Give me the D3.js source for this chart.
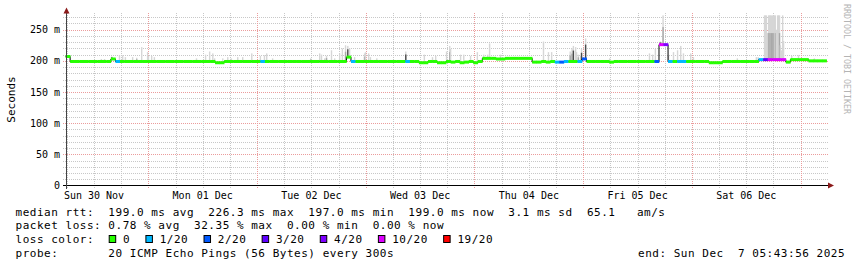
<!DOCTYPE html>
<html><head><meta charset="utf-8">
<script src="https://cdn.jsdelivr.net/npm/d3@7/dist/d3.min.js"></script>
<style>
body{margin:0;background:#fff}
svg{display:block}
text{font-family:"DejaVu Sans Mono",monospace;fill:#000}
</style>
</head><body>
<svg id="c" width="857" height="267"></svg>
<script>
// ---------------- data ----------------
const endTime = "2025-12-07T05:43:56Z";
const spanHours = 168;

// hourly median rtt (ms), hour 0 = end - 168h
const medianMs = [
207,
199,199,199,199,199,199,199,199,199,
203,199,
199,199,199,199,199,199,199,199,199,199,199,199,199,199,199,199,199,199,199,199,199,
197,197,
199,199,199,199,199,199,199,199,199,199,199,199,199,199,199,199,199,199,199,199,199,199,199,199,199,199,199,
206,
199,199,199,199,199,199,199,199,199,199,199,199,199,199,199,
197,197,199,199,197,197,
199,198,199,197,198,199,197,
199,
204,204,204,203,203,204,204,204,204,204,204,
198,198,199,198,199,
198,198,199,199,199,
199,203,199,
199,199,199,199,198,199,199,199,199,199,199,199,199,199,
199,226,226,
199,199,199,199,199,199,199,199,199,
197,197,197,
199,199,199,199,199,199,199,199,
202,202,202,202,202,202,
198,
202,202,202,202,
200,200,200,200
];

// packets lost out of 20, per hour (0 unless listed)
const lossCount = [
0,0,0,0,0,0,0,0,0,0, 0,1,0,0,0,0,0,0,0,0,
0,0,0,0,0,0,0,0,0,0, 0,0,0,0,0,0,0,0,0,0,
0,0,0,1,0,0,0,0,0,0, 0,0,0,0,0,0,0,0,0,0,
0,0,0,1,0,0,0,0,0,0, 0,0,0,0,0,1,0,0,0,0,
0,0,0,0,0,0,0,0,0,0, 0,0,0,0,0,0,0,0,0,0,
0,0,0,0,0,0,0,0,1,2, 1,0,0,1,2,0,0,0,0,0,
0,0,0,0,0,0,0,0,0,0, 2,10,4,1,0,1,1,0,0,0,
0,0,0,0,0,0,0,0,0,0, 0,0,0,1,3,10,10,10,10,0,
0,0,0,0,0,0,0,0
];

// smoke (ping spread) spikes: hour offset, top of spread (ms), shade 0 light / 1 mid / 2 dark
const smokeHour = [7.9,8.6,10.2,11.9,12.6,13.2,14.8,15.7,16.8,18.1,18.3,19.0,19.6,
28.9,30.9,31.8,32.5,32.9,34.7,35.8,36.6,38.0,39.1,41.1,43.0,43.9,44.4,45.7,
54.1,56.1,56.5,57.2,57.6,58.7,59.4,60.5,61.1,61.8,62.3,62.7,63.8,66.0,66.2,66.9,67.3,68.7,
75.1,79.2,81.0,81.7,84.1,84.8,85.0,87.2,87.9,89.4,90.9,92.3,93.2,93.6,96.0,
105.5,106.6,107.3,111.4,111.8,112.1,112.6,112.8,113.2,113.7,113.9,114.8,120.1,
128.9,129.6,130.2,131.3,131.9,132.6,133.1,134.2,135.1,135.8,136.4,138.0,138.6,
148.3,152.5,152.9,
154.3,154.5,154.7,155.0,155.2,155.4,155.6,155.8,156.1,156.3,156.5,156.7,156.9,157.2,157.4,157.6,157.8,158.0,158.3,158.5,
160.3,161.8,165.3];
const smokeTopMs = [203,203,207,209,209,206,206,205,222,214,208,208,206,
204,210,215,212,204,204,206,204,206,206,212,208,209,212,204,
204,212,210,204,208,217,204,212,220,225,224,220,206,212,214,212,206,204,
215,210,206,208,215,224,219,210,210,208,214,210,210,228,210,
231,214,214,215,220,224,222,214,210,208,219,236,204,
212,210,219,231,273,228,208,214,217,224,212,212,206,
204,206,206,
273,273,273,245,273,273,273,273,273,273,273,273,250,273,273,273,225,217,273,232,
208,209,204];
const smokeShade = [0,0,2,0,0,0,0,1,0,0,0,0,0,
0,0,0,0,0,0,0,0,0,0,0,0,0,0,0,
1,0,0,0,1,0,0,0,0,1,2,0,0,1,0,0,0,0,
2,0,0,0,0,1,0,0,0,0,0,0,0,0,0,
0,0,0,1,1,2,0,0,1,0,2,2,0,
0,0,0,2,1,1,0,0,0,0,0,0,0,
0,0,0,
0,0,0,0,1,1,1,1,1,1,0,1,0,0,0,1,0,0,0,0,
0,0,0];

const yTickValues = [0,50,100,150,200,250];
const yTickLabels = ["0","50 m","100 m","150 m","200 m","250 m"];
const dayLabels = ["Sun 30 Nov","Mon 01 Dec","Tue 02 Dec","Wed 03 Dec","Thu 04 Dec","Fri 05 Dec","Sat 06 Dec"];
const firstDayNoon = "2025-11-30T12:00:00Z";

const lossThresholds = [0,1,2,3,4,10,19];
const lossLabels = ["0","1/20","2/20","3/20","4/20","10/20","19/20"];
const lossColors = ["#26ff00","#00b8ff","#0059ff","#5e00ff","#7e00ff","#dd00ff","#ff0000"];

const statLine1 = "median rtt:  199.0 ms avg  226.3 ms max  197.0 ms min  199.0 ms now  3.1 ms sd  65.1   am/s";
const statLine2 = "packet loss: 0.78 % avg  32.35 % max  0.00 % min  0.00 % now";
const legendTitle = "loss color:";
const probeLine = "probe:       20 ICMP Echo Pings (56 Bytes) every 300s";
const endLine = "end: Sun Dec  7 05:43:56 2025";
const yAxisTitle = "Seconds";
const watermark = "RRDTOOL / TOBI OETIKER";

// ---------------- drawing ----------------
const svg = d3.select("#c");
const end = new Date(endTime);
const start = new Date(end.getTime() - spanHours*3600e3);
const hr = h => new Date(start.getTime() + h*3600e3);

const x = d3.scaleTime().domain([start, end]).range([65.6, 826.6]);
const y = d3.scaleLinear().domain([0, 276]).range([185.5, 13.5]);
const plotL = 63, plotR = 828, plotT = 13, plotB = 185.5;

function lossColor(n){
  let c = lossColors[0];
  lossThresholds.forEach((t,i)=>{ if(n>=t) c = lossColors[i]; });
  return c;
}

// grid
const gy = d3.range(10, 271, 10);
svg.append("g").selectAll("line").data(gy).join("line")
  .attr("x1", plotL).attr("x2", plotR)
  .attr("y1", d=>Math.round(y(d))+0.5).attr("y2", d=>Math.round(y(d))+0.5)
  .attr("stroke", d=> d%50===0 ? "#eb9c9c" : "#c8c8c8")
  .attr("stroke-dasharray","1,1").attr("stroke-width",1);

const gx = d3.utcHour.every(6).range(start, end);
svg.append("g").selectAll("line").data(gx).join("line")
  .attr("x1", d=>Math.round(x(d))+0.5).attr("x2", d=>Math.round(x(d))+0.5)
  .attr("y1", plotT).attr("y2", 189)
  .attr("stroke", d=> d.getUTCHours()===0 ? "#eb9c9c" : "#c8c8c8")
  .attr("stroke-dasharray","1,1").attr("stroke-width",1);

// smoke
const smoke = smokeHour.map((h,i)=>({h, top: smokeTopMs[i], shade: smokeShade[i], med: medianMs[Math.min(spanHours-1, Math.floor(h))]}));
const shadeCol = ["#d6d6d6","#a9a9a9","#4a4a4a"];
const sg = svg.append("g");
smoke.forEach(s=>{
  const xs = x(hr(s.h));
  sg.append("rect").attr("x", xs-0.7).attr("width", 1.4)
    .attr("y", y(s.top)).attr("height", Math.max(0, y(s.med)-y(s.top)))
    .attr("fill", shadeCol[0]);
  if(s.shade>0){
    const inner = s.med + (s.top - s.med)*(s.shade===2?0.7:0.6);
    sg.append("rect").attr("x", xs-0.7).attr("width", 1.4)
      .attr("y", y(inner)).attr("height", Math.max(0, y(s.med)-y(inner)))
      .attr("fill", shadeCol[s.shade]);
  }
});

// median: black step line, then loss-coloured segments
const pts = medianMs.map((m,i)=>[hr(i), m]);
pts.push([end, medianMs[medianMs.length-1]]);
svg.append("path").datum(pts)
  .attr("d", d3.line().x(d=>x(d[0])).y(d=>y(d[1])).curve(d3.curveStepAfter))
  .attr("fill","none").attr("stroke","#000").attr("stroke-width",1);
svg.append("g").selectAll("rect").data(medianMs).join("rect")
  .attr("x", (d,i)=>x(hr(i))).attr("width", (d,i)=>x(hr(i+1))-x(hr(i))+0.3)
  .attr("y", d=>y(d)-1.5).attr("height", 3)
  .attr("fill", (d,i)=>lossColor(lossCount[i]));

// axes
svg.append("line").attr("x1",63).attr("x2",829).attr("y1",185.5).attr("y2",185.5).attr("stroke","#000");
svg.append("line").attr("x1",66.5).attr("x2",66.5).attr("y1",12).attr("y2",189).attr("stroke","#444");
svg.append("path").attr("d","M63.5,13.5 L66.5,7.5 L69.5,13.5 Z").attr("fill","#8b1a1a");
svg.append("path").attr("d","M828,182.5 L834,185.5 L828,188.5 Z").attr("fill","#8b1a1a");

// y labels
svg.append("g").selectAll("text").data(yTickValues).join("text")
  .attr("x", 60).attr("y", d=>y(d)).attr("dy","0.36em")
  .attr("text-anchor","end").attr("font-size","10px")
  .text((d,i)=>yTickLabels[i]);

// x labels (centered at noon)
svg.append("g").selectAll("text").data(dayLabels).join("text")
  .attr("x", (d,i)=>x(d3.utcDay.offset(new Date(firstDayNoon), i)))
  .attr("y", 198.5).attr("text-anchor","middle").attr("font-size","10px")
  .text(d=>d);

// titles
svg.append("text").attr("transform","translate(15,99.5) rotate(-90)")
  .attr("text-anchor","middle").attr("font-size","11px").text(yAxisTitle);
svg.append("text").attr("transform","translate(844,4) rotate(90)")
  .attr("font-size","8.3px").style("fill","#b4b4b4").text(watermark);

// stats
const cw = 7.14;
const txt = (s, xx, yy) => svg.append("text").attr("x", xx).attr("y", yy)
  .attr("font-size","11px").attr("letter-spacing","0.52px")
  .style("white-space","pre").text(s);
txt(statLine1, 15.5, 215.5);
txt(statLine2, 15.5, 229);
txt(legendTitle, 15.5, 243);
let lx = 108.7;
lossLabels.forEach((lab,i)=>{
  svg.append("rect").attr("x", lx+0.5).attr("y", 235.5).attr("width",6.5).attr("height",7)
    .attr("fill", lossColors[i]).attr("stroke","#000").attr("stroke-width",1);
  txt(lab, lx+14.3, 243);
  lx += (lab.length+4)*cw + 1.0;
});
txt(probeLine, 15.5, 256.5);
txt(endLine, 638, 256.5);
</script>
</body></html>
